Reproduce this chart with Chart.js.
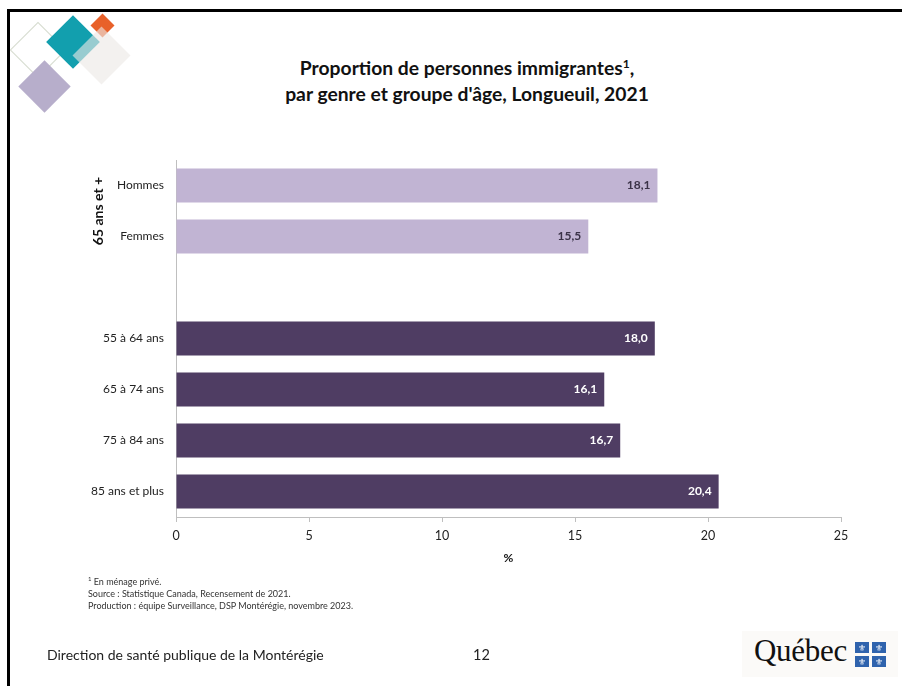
<!DOCTYPE html>
<html lang="fr">
<head>
<meta charset="utf-8">
<script src="https://cdn.jsdelivr.net/npm/chart.js@4/dist/chart.umd.min.js"></script>
<style>
  html, body { margin:0; padding:0; background:#fff; }
  body { width:902px; height:686px; position:relative; overflow:hidden; font-family: Lato, "Open Sans", sans-serif; }
  #frame { position:absolute; left:7px; top:9px; width:900px; height:690px; border-top:3px solid #000; border-left:3px solid #000; box-sizing:border-box; z-index:5; }
  #chartWrap { position:absolute; left:0; top:0; width:902px; height:686px; }
  .dia { position:absolute; transform:rotate(45deg); box-sizing:border-box; }
  #title { position:absolute; left:247px; width:440px; top:55px; text-align:center; font-weight:bold; font-size:19.3px; line-height:26px; color:#111; }
  #title sup { font-size:12px; vertical-align: 7px; line-height:0; }
  #notes { position:absolute; left:88px; top:576px; font-size:9px; line-height:12px; color:#333; }
  #notes div { height:12px; }
  #footer { position:absolute; left:47px; top:646px; font-size:14px; color:#222; }
  #page { position:absolute; left:473px; top:646px; font-size:14.5px; color:#222; }
  #qlogo { position:absolute; left:742px; top:631px; width:156px; height:46px; background:#fbfaf8; }
  #qtext { position:absolute; left:12px; top:2px; font-family:"Liberation Serif","DejaVu Serif",serif; font-size:31px; color:#111; letter-spacing:-0.3px; }
  #flag { position:absolute; left:113px; top:11px; width:31px; height:25px; }
  .fq { position:absolute; width:14px; height:11px; background:#2f63ad; color:#fff; font-size:9px; line-height:11px; text-align:center; }
</style>
</head>
<body>
<div id="frame"></div>

<!-- decorative logo -->
<div class="dia" style="left:18px;top:30px;width:40px;height:40px;border:1.5px solid #d6dccf;"></div>
<div class="dia" style="left:54px;top:23px;width:38px;height:38px;background:#129fae;"></div>
<div class="dia" style="left:94px;top:17px;width:17px;height:17px;background:#e8612a;"></div>
<div class="dia" style="left:81px;top:35px;width:41px;height:41px;background:rgba(236,232,229,0.62);"></div>
<div class="dia" style="left:26px;top:68px;width:37px;height:37px;background:#b7aecb;"></div>

<div id="title">Proportion de personnes immigrantes<sup>1</sup>,<br>par genre et groupe d'âge, Longueuil, 2021</div>

<div id="chartWrap"><canvas id="c" width="902" height="686"></canvas></div>

<div id="notes">
  <div><sup style="font-size:6px;line-height:0">1</sup> En ménage privé.</div>
  <div>Source : Statistique Canada, Recensement de 2021.</div>
  <div>Production : équipe Surveillance, DSP Montérégie, novembre 2023.</div>
</div>

<div id="footer">Direction de santé publique de la Montérégie</div>
<div id="page">12</div>

<div id="qlogo">
  <div id="qtext">Québec</div>
  <div id="flag">
    <div class="fq" style="left:0;top:0">⚜</div>
    <div class="fq" style="left:17px;top:0">⚜</div>
    <div class="fq" style="left:0;top:14px">⚜</div>
    <div class="fq" style="left:17px;top:14px">⚜</div>
  </div>
</div>

<script>
// ---- data ----
const categories = ['Hommes', 'Femmes', '', '55 à 64 ans', '65 à 74 ans', '75 à 84 ans', '85 ans et plus'];
const values = [18.1, 15.5, null, 18.0, 16.1, 16.7, 20.4];
const groupLabel = '65 ans et +';
const groupIndices = [0, 1];
const xTicks = [0, 5, 10, 15, 20, 25];
const xAxisTitle = '%';

const lightColor = '#c1b4d3';
const darkColor = '#4f3d63';
const barColors = values.map((v, i) => groupIndices.includes(i) ? lightColor : darkColor);
const labelColors = values.map((v, i) => groupIndices.includes(i) ? '#3b3348' : '#ffffff');

const FONT = 'Lato, "Open Sans", sans-serif';

const valueLabels = {
  id: 'valueLabels',
  afterDatasetsDraw(chart) {
    const ctx = chart.ctx;
    const meta = chart.getDatasetMeta(0);
    ctx.save();
    ctx.font = 'bold 12px ' + FONT;
    ctx.textAlign = 'right';
    ctx.textBaseline = 'middle';
    meta.data.forEach((el, i) => {
      const v = values[i];
      if (v === null || v === undefined) return;
      ctx.fillStyle = labelColors[i];
      ctx.fillText(v.toFixed(1).replace('.', ','), el.x - 7, el.y);
    });
    ctx.restore();
  }
};

const groupLabelPlugin = {
  id: 'groupLabel',
  afterDraw(chart) {
    const y = chart.scales.y;
    const yc = (y.getPixelForValue(groupIndices[0]) + y.getPixelForValue(groupIndices[groupIndices.length - 1])) / 2;
    const ctx = chart.ctx;
    ctx.save();
    ctx.translate(98, yc);
    ctx.rotate(-Math.PI / 2);
    ctx.font = 'bold 14px ' + FONT;
    ctx.fillStyle = '#111';
    ctx.textAlign = 'center';
    ctx.textBaseline = 'middle';
    ctx.fillText(groupLabel, 0, 0);
    ctx.restore();
  }
};

new Chart(document.getElementById('c'), {
  type: 'bar',
  data: {
    labels: categories,
    datasets: [{
      data: values,
      backgroundColor: barColors,
      borderWidth: 0,
      categoryPercentage: 1,
      barPercentage: 0.67
    }]
  },
  options: {
    indexAxis: 'y',
    responsive: false,
    animation: false,
    devicePixelRatio: 1,
    layout: { padding: { left: 0, right: 61, top: 160, bottom: 109 } },
    plugins: { legend: { display: false }, tooltip: { enabled: false }, title: { display: false } },
    scales: {
      x: {
        min: 0, max: 25,
        afterBuildTicks(scale) { scale.ticks = xTicks.map(v => ({ value: v })); },
        afterFit(scale) { scale.height = 60; },
        grid: { drawOnChartArea: false, drawTicks: true, tickLength: 5, color: '#bfbfbf' },
        border: { display: true, color: '#bfbfbf', width: 1 },
        ticks: { padding: 6, color: '#222', font: { family: FONT, size: 12.5 } },
        title: { display: true, text: xAxisTitle, color: '#111', font: { family: FONT, size: 12, weight: 'bold' }, padding: { top: 0, bottom: 12 } }
      },
      y: {
        afterFit(scale) { scale.width = 176; },
        grid: { display: false, drawTicks: false },
        border: { display: true, color: '#bfbfbf', width: 1 },
        ticks: { padding: 12, color: '#222', font: { family: FONT, size: 12 } }
      }
    }
  },
  plugins: [valueLabels, groupLabelPlugin]
});
</script>
</body>
</html>
